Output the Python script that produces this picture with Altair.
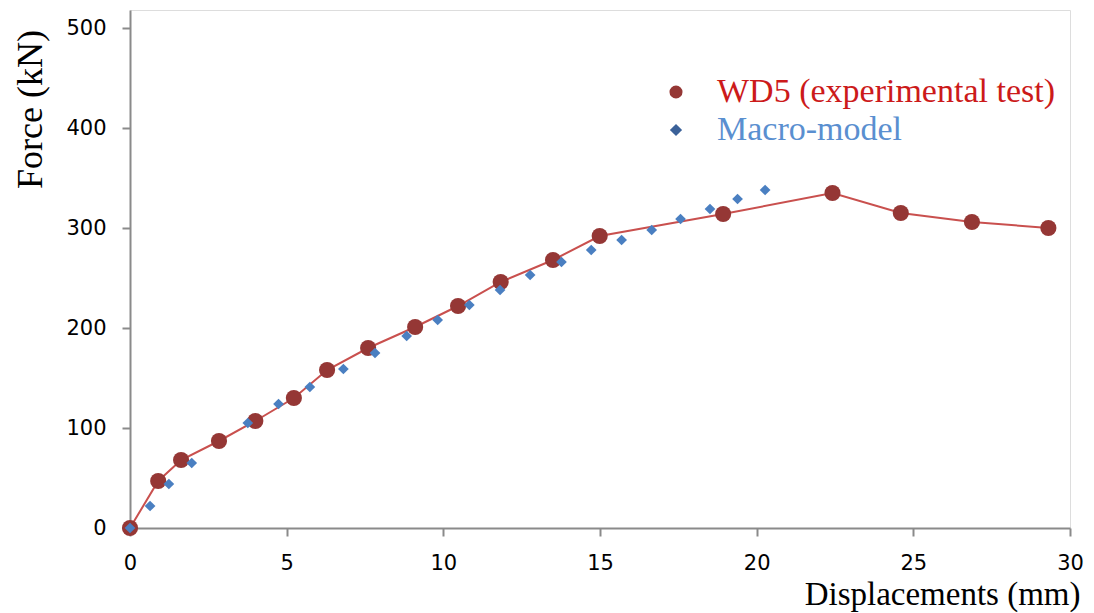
import altair as alt
import pandas as pd

# Experimental test WD5
exp_x = [0, 0.9, 1.63, 2.84, 4.0, 5.23, 6.29, 7.6, 9.1, 10.47, 11.83, 13.5, 14.99, 18.93, 22.42, 24.6, 26.87, 29.31]
exp_y = [0, 47, 68, 87, 107, 130, 158, 180, 201, 222, 246, 268, 292, 314, 335, 315, 306, 300]

# Macro-model
mod_x = [0, 0.64, 1.24, 1.97, 3.76, 4.74, 5.74, 6.81, 7.82, 8.83, 9.82, 10.83, 11.81, 12.77, 13.77, 14.72, 15.69, 16.65, 17.57, 18.51, 19.39, 20.27]
mod_y = [0, 22, 44, 65, 105, 124, 141, 159, 175, 192, 208, 223, 238, 253, 266, 278, 288, 298, 309, 319, 329, 338]

x_ticks = [0, 5, 10, 15, 20, 25, 30]
y_ticks = [0, 100, 200, 300, 400, 500]
legend_labels = ["WD5 (experimental test)", "Macro-model"]

exp_df = pd.DataFrame({"x": exp_x, "y": exp_y})
mod_df = pd.DataFrame({"x": mod_x, "y": mod_y})

AXIS_GRAY = "#8a8a8a"

x_enc = alt.X(
    "x:Q",
    scale=alt.Scale(domain=[0, 30], nice=False, zero=False),
    axis=alt.Axis(
        values=x_ticks, title="Displacements (mm)", grid=False, labelFlush=False,
        domainColor=AXIS_GRAY, domainWidth=2, tickColor=AXIS_GRAY, tickWidth=2, tickSize=8,
        labelFont="DejaVu Sans", labelFontSize=21, labelColor="#000000", labelPadding=16,
        titleFont="Liberation Serif", titleFontSize=33, titleFontWeight="normal", titleColor="#000000",
        titleAnchor="end", titleAlign="right", titleX=950, titleY=76, titleBaseline="alphabetic",
    ),
)
y_enc = alt.Y(
    "y:Q",
    scale=alt.Scale(domain=[0, 518], nice=False, zero=False),
    axis=alt.Axis(
        values=y_ticks, title="Force (kN)", grid=False, labelFlush=False,
        domainColor=AXIS_GRAY, domainWidth=2, tickColor=AXIS_GRAY, tickWidth=2, tickSize=8,
        labelFont="DejaVu Sans", labelFontSize=21, labelColor="#000000", labelPadding=16,
        titleFont="Liberation Serif", titleFontSize=36, titleFontWeight="normal", titleColor="#000000",
        titleAngle=-90, titleX=-89, titleY=99, titleAlign="center", titleBaseline="alphabetic",
    ),
)

line = alt.Chart(exp_df).mark_line(color="#c9504e", strokeWidth=2).encode(x=x_enc, y=y_enc)
exp_pts = alt.Chart(exp_df).mark_point(shape="circle", filled=True, size=260, color="#953735", opacity=1).encode(x="x:Q", y="y:Q")
mod_pts = alt.Chart(mod_df).mark_point(shape="diamond", filled=True, size=115, color="#4a7fc1", opacity=1).encode(x="x:Q", y="y:Q")

leg1 = pd.DataFrame({"label": [legend_labels[0]]})
leg2 = pd.DataFrame({"label": [legend_labels[1]]})

leg1_sym = alt.Chart(leg1).mark_point(shape="circle", filled=True, size=170, color="#953735", opacity=1).encode(
    x=alt.value(546), y=alt.value(82))
leg2_sym = alt.Chart(leg2).mark_point(shape="diamond", filled=True, size=150, color="#3b6199", opacity=1).encode(
    x=alt.value(546), y=alt.value(120))
leg1_txt = alt.Chart(leg1).mark_text(align="left", baseline="middle", font="Liberation Serif", fontSize=34, color="#cc1a1a").encode(
    x=alt.value(587), y=alt.value(82), text="label:N")
leg2_txt = alt.Chart(leg2).mark_text(align="left", baseline="middle", font="Liberation Serif", fontSize=34, color="#5a8fd0").encode(
    x=alt.value(587), y=alt.value(120), text="label:N")

chart = alt.layer(line, exp_pts, mod_pts, leg1_sym, leg2_sym, leg1_txt, leg2_txt).properties(
    width=940, height=518,
    autosize=alt.AutoSizeParams(type="none"),
    padding={"left": 122, "top": 2, "right": 16, "bottom": 85},
).configure_view(stroke=None).configure(background="#ffffff")

chart.save("out.html", embed_options={"renderer": "svg", "actions": False})
